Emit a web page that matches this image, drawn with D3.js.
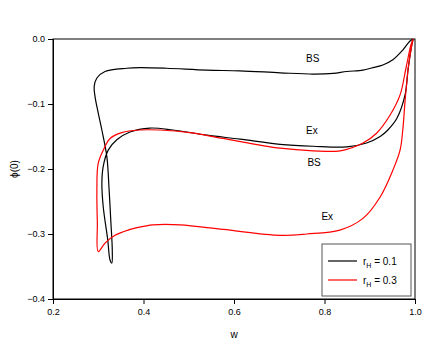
<!DOCTYPE html>
<html>
<head>
<meta charset="utf-8">
<script src="https://cdn.jsdelivr.net/npm/d3@7"></script>
<style>
  body { margin: 0; background: #fff; }
  text { font-family: "Liberation Sans", Arial, sans-serif; }
</style>
</head>
<body>
<svg id="chart" width="436" height="345"></svg>
<script>
// r_H = 0.1 curve, one closed path (w, phi(0))
var curveBlack = [
  [0.996, 0.000], [0.989, -0.003], [0.973, -0.017], [0.951, -0.032], [0.929, -0.040],
  [0.907, -0.044], [0.885, -0.048], [0.849, -0.050], [0.819, -0.053], [0.775, -0.054],
  [0.702, -0.052], [0.613, -0.049], [0.540, -0.048], [0.451, -0.045], [0.392, -0.044],
  [0.363, -0.045], [0.315, -0.050], [0.297, -0.060], [0.291, -0.073], [0.293, -0.089],
  [0.300, -0.114], [0.308, -0.140], [0.319, -0.181], [0.324, -0.232], [0.328, -0.283],
  [0.331, -0.325], [0.330, -0.345], [0.326, -0.340], [0.321, -0.309], [0.311, -0.258],
  [0.308, -0.222], [0.311, -0.196], [0.322, -0.171], [0.341, -0.155], [0.370, -0.143],
  [0.414, -0.137], [0.465, -0.140], [0.540, -0.148], [0.613, -0.154], [0.702, -0.162],
  [0.775, -0.165], [0.849, -0.166], [0.893, -0.160], [0.923, -0.150], [0.940, -0.140],
  [0.960, -0.122], [0.978, -0.086], [0.985, -0.045], [0.993, -0.009], [0.996, 0.000]
];

// r_H = 0.3 curve
var curveRed = [
  [0.996, 0.000], [0.991, -0.009], [0.980, -0.045], [0.967, -0.086], [0.945, -0.117],
  [0.915, -0.145], [0.885, -0.160], [0.835, -0.172], [0.775, -0.172], [0.702, -0.168],
  [0.576, -0.153], [0.503, -0.144], [0.436, -0.140], [0.392, -0.140], [0.352, -0.144],
  [0.326, -0.153], [0.314, -0.167], [0.300, -0.191], [0.297, -0.232], [0.298, -0.283],
  [0.300, -0.327], [0.315, -0.314], [0.337, -0.302], [0.366, -0.294], [0.403, -0.288],
  [0.421, -0.286], [0.481, -0.286], [0.576, -0.293], [0.702, -0.302], [0.761, -0.300],
  [0.834, -0.294], [0.885, -0.276], [0.923, -0.243], [0.951, -0.202], [0.967, -0.171],
  [0.973, -0.140], [0.978, -0.096], [0.985, -0.045], [0.993, -0.009], [0.996, 0.000]
];

var series = [
  { name: "0.1", color: "#000", points: curveBlack },
  { name: "0.3", color: "#ff0000", points: curveRed }
];

var xTicks = [0.2, 0.4, 0.6, 0.8, 1.0];
var yTicks = [0.0, -0.1, -0.2, -0.3, -0.4];

// branch labels (w, phi)
var branchLabels = [
  { text: "BS", w: 0.774, phi: -0.035 },
  { text: "Ex", w: 0.772, phi: -0.146 },
  { text: "BS", w: 0.777, phi: -0.195 },
  { text: "Ex", w: 0.806, phi: -0.279 }
];

var svg = d3.select('#chart');

var margin = { left: 53, top: 39, right: 21, bottom: 46 };
var W = 436 - margin.left - margin.right;
var H = 345 - margin.top - margin.bottom;

var x = d3.scaleLinear().domain([0.2, 1.0]).range([0, W]);
var y = d3.scaleLinear().domain([-0.4, 0.0]).range([H, 0]);

var g = svg.append('g')
  .attr('transform', 'translate(' + margin.left + ',' + margin.top + ')');

//* frame (top and right)
g.append('rect')
  .attr('x', 0).attr('y', 0)
  .attr('width', W).attr('height', H)
  .attr('fill', 'none')
  .attr('stroke', '#000')
  .attr('stroke-width', 1);

//* axes
var xAxis = g.append('g')
  .attr('transform', 'translate(0,' + H + ')')
  .call(d3.axisBottom(x).tickValues(xTicks).tickFormat(d3.format('.1f')).tickSize(5).tickPadding(5));

var yAxis = g.append('g')
  .call(d3.axisLeft(y).tickValues(yTicks).tickFormat(d3.format('.1f')).tickSize(5).tickPadding(3));

[xAxis, yAxis].forEach(function(a) {
  a.selectAll('text')
    .attr('font-family', '"Liberation Sans", Arial, sans-serif')
    .attr('font-size', 9)
    .style('fill', '#000');
  a.select('.domain').attr('stroke', '#000');
  a.selectAll('.tick line').attr('stroke', '#000');
});
yAxis.selectAll('text').text(function(d) { return d === 0 ? '0.0' : d3.format('.1f')(d); });

//* axis titles
g.append('text')
  .attr('x', W / 2)
  .attr('y', H + 39)
  .attr('font-size', 10)
  .style('text-anchor', 'middle')
  .text('w');

g.append('text')
  .attr('transform', 'translate(' + (-35) + ',' + (H / 2) + ') rotate(-90)')
  .attr('font-size', 10)
  .style('text-anchor', 'middle')
  .text('ϕ(0)');

//* curves
var line = d3.line()
  .x(function(d) { return x(d[0]); })
  .y(function(d) { return y(d[1]); })
  .curve(d3.curveCatmullRom.alpha(0.5));

g.selectAll('.curve')
  .data(series)
  .enter().append('path')
  .attr('class', 'curve')
  .attr('d', function(d) { return line(d.points); })
  .attr('fill', 'none')
  .attr('stroke', function(d) { return d.color; })
  .attr('stroke-width', 1.2);

//* branch labels
g.selectAll('.blabel')
  .data(branchLabels)
  .enter().append('text')
  .attr('class', 'blabel')
  .attr('x', function(d) { return x(d.w); })
  .attr('y', function(d) { return y(d.phi); })
  .attr('font-size', 10)
  .style('text-anchor', 'middle')
  .text(function(d) { return d.text; });

//* legend
var lg = g.append('g').attr('transform', 'translate(' + (322 - margin.left) + ',' + (244 - margin.top) + ')');
lg.append('rect')
  .attr('width', 89).attr('height', 52)
  .attr('fill', '#fff')
  .attr('stroke', '#555')
  .attr('stroke-width', 1);

series.forEach(function(s, i) {
  var ly = 17 + i * 19;
  lg.append('line')
    .attr('x1', 6).attr('x2', 35)
    .attr('y1', ly).attr('y2', ly)
    .attr('stroke', s.color)
    .attr('stroke-width', 1.2);
  var t = lg.append('text')
    .attr('x', 41)
    .attr('y', ly + 4)
    .attr('font-size', 10);
  t.append('tspan').text('r');
  t.append('tspan').attr('font-size', 7).attr('dy', 3).text('H');
  t.append('tspan').attr('dy', -3).text(' = ' + s.name);
});
</script>
</body>
</html>
